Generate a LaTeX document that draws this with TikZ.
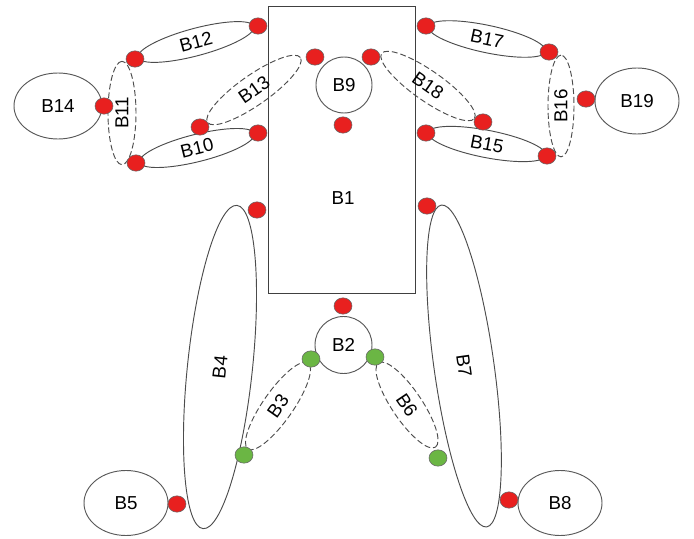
\documentclass[tikz,border=0pt]{standalone}
\usepackage{fontspec}
\setmainfont{Liberation Sans}
\usetikzlibrary{shapes.geometric}
\definecolor{jointred}{HTML}{E8201F}
\definecolor{jointgreen}{HTML}{6BB644}

\begin{document}
\begin{tikzpicture}
[x=0.03cm,y=-0.03cm,
every node/.style={font=\fontsize{16}{18}\selectfont,inner sep=0pt},
box/.style={rectangle,draw=black!75,fill=white,line width=0.8pt},
part/.style={ellipse,draw=black!65,fill=white,line width=0.8pt},
limb/.style={ellipse,draw=black!70,line width=0.8pt,minimum height=0.82cm},
link/.style={limb,dash pattern=on 5pt off 2.5pt,minimum height=0.9cm},
dot/.style={ellipse,draw=black!60,line width=0.5pt,minimum width=0.54cm,minimum height=0.49cm},
red dot/.style={dot,fill=jointred},
green dot/.style={dot,fill=jointgreen}]
\useasboundingbox (0,0) rectangle (694,539);
\node[box,minimum width=4.41cm,minimum height=8.61cm] (b1) at (341.5,149.5) {};
\node (b1 text) at (343,198) {B1};
\node[part,circle,minimum size=1.68cm] (b9) at (344,85) {B9};
\node[part,circle,minimum size=1.71cm] (b2) at (343.5,345) {B2};
\node[part,minimum width=2.64cm,minimum height=1.98cm] (b14) at (58,106) {B14};
\node[part,minimum width=2.52cm,minimum height=1.98cm] (b19) at (637,101) {B19};
\node[part,minimum width=2.52cm,minimum height=1.95cm] (b5) at (126,503) {B5};
\node[part,minimum width=2.52cm,minimum height=1.95cm] (b8) at (560,503) {B8};
% arms
\node[limb,minimum width=3.6cm,rotate=15] (b12) at (196,42) {B12};
\node[limb,minimum width=3.55cm,rotate=14] (b10) at (197,148) {B10};
\node[link,minimum width=3.4cm,rotate=35] (b13) at (254,90) {B13};
\node[link,minimum width=3.1cm,minimum height=0.84cm,rotate=90] (b11) at (122,113) {B11};
\node[limb,minimum width=3.6cm,rotate=-12] (b17) at (487,39) {B17};
\node[limb,minimum width=3.6cm,rotate=-11] (b15) at (487,144) {B15};
\node[link,minimum width=3.4cm,rotate=-35] (b18) at (428,86) {B18};
\node[link,minimum width=3.05cm,minimum height=0.78cm,rotate=90] (b16) at (561,106) {B16};
% legs
\node[limb,minimum width=9.75cm,minimum height=1.95cm,rotate=84] (b4) at (220,367) {B4};
\node[limb,minimum width=9.75cm,minimum height=1.8cm,rotate=-82] (b7) at (464,366) {B7};
\node[link,minimum width=3.15cm,rotate=55] (b3) at (278,406) {B3};
\node[link,minimum width=3.05cm,rotate=-56] (b6) at (407,405) {B6};
% joints
\node[red dot] (j1) at (258,26) {};
\node[red dot] (j2) at (135,59) {};
\node[red dot] (j3) at (104,106) {};
\node[red dot] (j4) at (136,163) {};
\node[red dot] (j5) at (200,127) {};
\node[red dot] (j6) at (258,133) {};
\node[red dot] (j7) at (315,57) {};
\node[red dot] (j8) at (343,125) {};
\node[red dot] (j9) at (371,57) {};
\node[red dot] (j10) at (426,26) {};
\node[red dot] (j11) at (549,52) {};
\node[red dot] (j12) at (586,99) {};
\node[red dot] (j13) at (547,156) {};
\node[red dot] (j14) at (483,122) {};
\node[red dot] (j15) at (426,133) {};
\node[red dot] (j16) at (257,210) {};
\node[red dot] (j17) at (427,206) {};
\node[red dot] (j18) at (343,306) {};
\node[red dot] (j19) at (177,504) {};
\node[red dot] (j20) at (509,500) {};
\node[green dot] (j21) at (311,359) {};
\node[green dot] (j22) at (375,357) {};
\node[green dot] (j23) at (244,455) {};
\node[green dot] (j24) at (438,458) {};
\end{tikzpicture}
\end{document}
